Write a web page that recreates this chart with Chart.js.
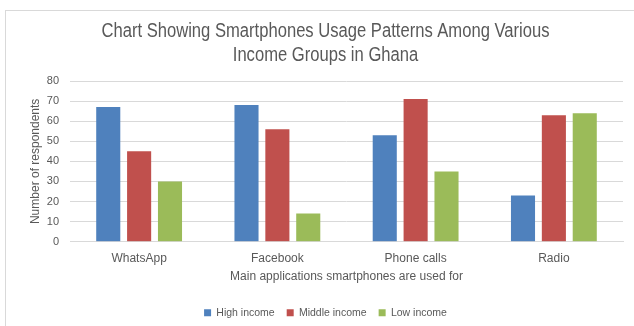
<!DOCTYPE html>
<html>
<head>
<meta charset="utf-8">
<script src="https://cdn.jsdelivr.net/npm/chart.js@4/dist/chart.umd.min.js"></script>
<style>
  html, body { margin: 0; padding: 0; background: #fff; }
  #wrap { position: relative; width: 634px; height: 326px; overflow: hidden; }
  #frame { position: absolute; left: 5px; top: 10px; width: 660px; height: 340px; border: 1px solid #d9d9d9; box-sizing: border-box; }
  canvas { position: absolute; left: 0; top: 0; }
</style>
</head>
<body>
<div id="wrap">
  <div id="frame"></div>
  <canvas id="c" width="634" height="326"></canvas>
</div>
<script>
const categories = ["WhatsApp", "Facebook", "Phone calls", "Radio"];
const seriesNames = ["High income", "Middle income", "Low income"];
const highIncome = [67, 68, 53, 23];
const middleIncome = [45, 56, 71, 63];
const lowIncome = [30, 14, 35, 64];
const yTicks = [0, 10, 20, 30, 40, 50, 60, 70, 80];
const titleLines = ["Chart Showing Smartphones Usage Patterns Among Various", "Income Groups in Ghana"];
const xTitle = "Main applications smartphones are used for";
const yTitle = "Number of respondents";

const FONT = "'Liberation Sans', Arial, sans-serif";
const GREY = "#595959";
const NARROW = 0.83; // title uses a narrow (condensed) look

const ctx = document.getElementById('c').getContext('2d');
// condensed rendering for large (title) text only: real text, horizontally narrowed
function factor() {
  const m = /(\d+(?:\.\d+)?)px/.exec(ctx.font);
  return m && parseFloat(m[1]) >= 16 ? NARROW : 1;
}
const origFill = ctx.fillText.bind(ctx);
const origMeasure = ctx.measureText.bind(ctx);
ctx.fillText = function (t, x, y, mw) {
  const k = factor();
  ctx.save();
  ctx.translate(x, y);
  ctx.scale(k, 1);
  if (mw !== undefined) origFill(t, 0, 0, mw / k); else origFill(t, 0, 0);
  ctx.restore();
};
ctx.measureText = function (t) {
  const k = factor();
  const m = origMeasure(t);
  return {
    width: m.width * k,
    actualBoundingBoxAscent: m.actualBoundingBoxAscent,
    actualBoundingBoxDescent: m.actualBoundingBoxDescent,
    actualBoundingBoxLeft: m.actualBoundingBoxLeft * k,
    actualBoundingBoxRight: m.actualBoundingBoxRight * k
  };
};

new Chart(ctx, {
  type: 'bar',
  data: {
    labels: categories,
    datasets: [
      { label: seriesNames[0], data: highIncome, backgroundColor: '#4F81BD' },
      { label: seriesNames[1], data: middleIncome, backgroundColor: '#C0504D' },
      { label: seriesNames[2], data: lowIncome, backgroundColor: '#9BBB59' }
    ]
  },
  options: {
    responsive: false,
    animation: false,
    devicePixelRatio: 1,
    categoryPercentage: 0.67,
    barPercentage: 0.78,
    layout: { padding: { left: 28, right: 11, top: 0, bottom: -2 } },
    plugins: {
      title: {
        display: true,
        text: titleLines,
        color: GREY,
        font: { family: FONT, size: 20, weight: 'normal', lineHeight: 1.2 },
        padding: { top: 19, bottom: 14 }
      },
      legend: {
        position: 'bottom',
        labels: {
          color: GREY,
          font: { family: FONT, size: 10.5 },
          boxWidth: 7,
          boxHeight: 7,
          padding: 12
        }
      },
      tooltip: { enabled: false }
    },
    scales: {
      x: {
        grid: { display: false, drawTicks: false },
        border: { display: true, color: '#d9d9d9' },
        ticks: { color: GREY, font: { family: FONT, size: 12 }, padding: 10 },
        title: { display: true, text: xTitle, color: GREY, font: { family: FONT, size: 12 }, padding: { top: -7, bottom: 12 } }
      },
      y: {
        min: 0, max: 80,
        afterBuildTicks: (s) => { s.ticks = yTicks.map(v => ({ value: v })); },
        afterFit: (s) => { s.width = 42; },
        grid: { color: '#d9d9d9', drawTicks: false },
        border: { display: false },
        ticks: { color: GREY, font: { family: FONT, size: 11 }, padding: 11 },
        title: { display: true, text: yTitle, color: GREY, font: { family: FONT, size: 12 }, padding: { top: 0, bottom: 2 } }
      }
    }
  }
});
</script>
</body>
</html>
